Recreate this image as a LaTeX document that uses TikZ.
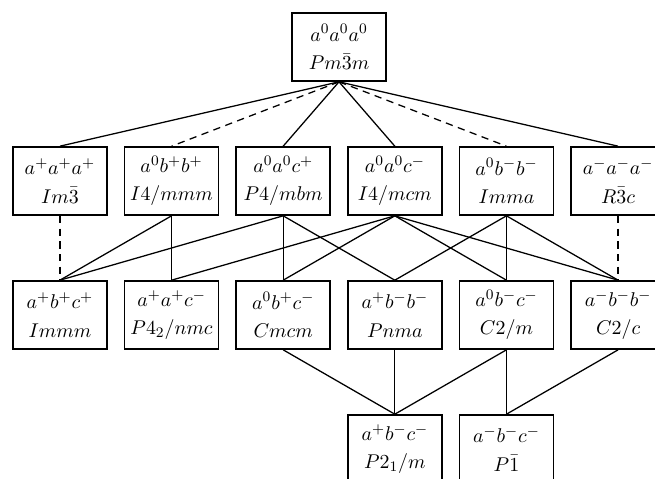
\documentclass[tikz,border=0pt]{standalone}
\usepackage{amsmath}
\usepackage{amssymb}
\usetikzlibrary{positioning}

\begin{document}
\begin{tikzpicture}[node distance=73.7pt and 61.4pt,on grid,
		group/.style={draw,line width=0.9pt,minimum width=51.7pt,minimum height=37.4pt,align=center,inner sep=1pt,font=\fontsize{11}{15.5}\selectfont},
		link/.style={line width=0.7pt},
		tilt/.style={dash pattern=on 4pt off 3pt}]
		\useasboundingbox (-186.45pt,25.85pt) rectangle (173.8pt,-237.05pt);
		\node[group] (pm3m) {$a^0a^0a^0$\\$Pm\bar{3}m$};
		% first row of subgroups
		\node[group] (p4mbm) [below left=73.7pt and 30.7pt of pm3m] {$a^0a^0c^+$\\$P4/mbm$};
		\node[group] (i4mmm) [left=of p4mbm] {$a^0b^+b^+$\\$I4/mmm$};
		\node[group] (im3) [left=of i4mmm] {$a^+a^+a^+$\\$Im\bar{3}$};
		\node[group] (i4mcm) [right=of p4mbm] {$a^0a^0c^-$\\$I4/mcm$};
		\node[group] (imma) [right=of i4mcm] {$a^0b^-b^-$\\$Imma$};
		\node[group] (r3c) [right=of imma] {$a^-a^-a^-$\\$R\bar{3}c$};
		% second row
		\node[group] (immm) [below=of im3] {$a^+b^+c^+$\\$Immm$};
		\node[group] (p42nmc) [below=of i4mmm] {$a^+a^+c^-$\\$P4_2/nmc$};
		\node[group] (cmcm) [below=of p4mbm] {$a^0b^+c^-$\\$Cmcm$};
		\node[group] (pnma) [below=of i4mcm] {$a^+b^-b^-$\\$Pnma$};
		\node[group] (c2m) [below=of imma] {$a^0b^-c^-$\\$C2/m$};
		\node[group] (c2c) [below=of r3c] {$a^-b^-b^-$\\$C2/c$};
		% third row
		\node[group] (p21m) [below=of pnma] {$a^+b^-c^-$\\$P2_1/m$};
		\node[group] (p1) [below=of c2m] {$a^-b^-c^-$\\$P\bar{1}$};
		\path[link]
			(pm3m.south) edge (im3.north)
			(pm3m.south) edge [tilt] (i4mmm.north)
			(pm3m.south) edge (p4mbm.north)
			(pm3m.south) edge (i4mcm.north)
			(pm3m.south) edge [tilt] (imma.north)
			(pm3m.south) edge (r3c.north)
			(im3.south) edge [tilt] (immm.north)
			(i4mmm.south) edge (immm.north)
			(i4mmm.south) edge (p42nmc.north)
			(p4mbm.south) edge (immm.north)
			(p4mbm.south) edge (cmcm.north)
			(p4mbm.south) edge (pnma.north)
			(i4mcm.south) edge (p42nmc.north)
			(i4mcm.south) edge (cmcm.north)
			(i4mcm.south) edge (c2m.north)
			(i4mcm.south) edge (c2c.north)
			(imma.south) edge (pnma.north)
			(imma.south) edge (c2m.north)
			(imma.south) edge (c2c.north)
			(r3c.south) edge [tilt] (c2c.north)
			(cmcm.south) edge (p21m.north)
			(pnma.south) edge (p21m.north)
			(c2m.south) edge (p21m.north)
			(c2m.south) edge (p1.north)
			(c2c.south) edge (p1.north);
	\end{tikzpicture}
\end{document}
